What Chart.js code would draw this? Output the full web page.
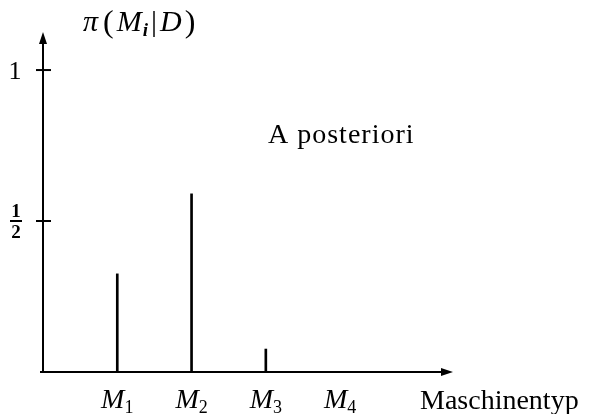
<!DOCTYPE html>
<html>
<head>
<meta charset="utf-8">
<script src="https://cdn.jsdelivr.net/npm/chart.js@4"></script>
<style>
  html, body { margin: 0; padding: 0; background: #fff; }
  #wrap { width: 596px; height: 414px; }
</style>
</head>
<body>
<div id="wrap"><canvas id="chart" width="596" height="414"></canvas></div>
<script>
// posterior probability per machine type
const machineIdx = ['1', '2', '3', '4'];
const posterior = [0.325, 0.59, 0.076, 0];
const yTicks = [1, 0.5];
const yTickText = ['1', '1/2'];

const SERIF = '"Liberation Serif", "DejaVu Serif", serif';

// axes, arrows, tick marks and all the lettering
const axesPlugin = {
  id: 'axesPlugin',
  afterDraw(chart) {
    const ctx = chart.ctx;
    const xs = chart.scales.x, ys = chart.scales.y;
    const x0 = xs.getPixelForValue(0), y0 = ys.getPixelForValue(0);
    const xEnd = xs.right, yEnd = ys.top;
    ctx.save();
    ctx.strokeStyle = '#000';
    ctx.fillStyle = '#000';
    ctx.lineWidth = 2;

    // x axis with arrow
    ctx.beginPath();
    ctx.moveTo(x0 - 3, y0);
    ctx.lineTo(xEnd - 6, y0);
    ctx.stroke();
    ctx.beginPath();
    ctx.moveTo(xEnd, y0);
    ctx.lineTo(xEnd - 12, y0 - 4);
    ctx.lineTo(xEnd - 12, y0 + 4);
    ctx.closePath();
    ctx.fill();

    // y axis with arrow
    ctx.beginPath();
    ctx.moveTo(x0, y0);
    ctx.lineTo(x0, yEnd + 6);
    ctx.stroke();
    ctx.beginPath();
    ctx.moveTo(x0, yEnd);
    ctx.lineTo(x0 - 4, yEnd + 12);
    ctx.lineTo(x0 + 4, yEnd + 12);
    ctx.closePath();
    ctx.fill();

    // y ticks
    yTicks.forEach((v, i) => {
      const py = ys.getPixelForValue(v);
      ctx.beginPath();
      ctx.moveTo(x0 - 7, py);
      ctx.lineTo(x0 + 8, py);
      ctx.stroke();
      const t = yTickText[i];
      ctx.textAlign = 'center';
      ctx.textBaseline = 'alphabetic';
      if (t.includes('/')) {
        const [n, d] = t.split('/');
        ctx.font = 'bold 19px ' + SERIF;
        ctx.fillText(n, 16, py - 4);
        ctx.fillText(d, 16, py + 17);
        ctx.lineWidth = 2;
        ctx.beginPath();
        ctx.moveTo(10, py);
        ctx.lineTo(22, py);
        ctx.stroke();
      } else {
        ctx.font = '26px ' + SERIF;
        ctx.fillText(t, 15, py + 9);
      }
    });

    // category labels M_k
    machineIdx.forEach((k, i) => {
      const px = xs.getPixelForValue(i + 1);
      ctx.font = 'italic 28px ' + SERIF;
      const wM = ctx.measureText('M').width;
      ctx.font = '18px ' + SERIF;
      const wS = ctx.measureText(k).width;
      const left = px - (wM + wS) / 2;
      ctx.textAlign = 'left';
      ctx.font = 'italic 28px ' + SERIF;
      ctx.fillText('M', left, 408);
      ctx.font = '18px ' + SERIF;
      ctx.fillText(k, left + wM, 413);
    });

    // axis titles
    ctx.textAlign = 'left';
    ctx.font = '28px ' + SERIF;
    ctx.fillText('Maschinentyp', 420, 409);
    ctx.letterSpacing = '1px';
    ctx.fillText('A posteriori', 268, 143);
    ctx.letterSpacing = '0px';

    // y title: pi(M_i|D)
    let x = 83;
    const part = (txt, font, dy, gap) => {
      ctx.font = font;
      ctx.fillText(txt, x, 31 + (dy || 0));
      x += ctx.measureText(txt).width + (gap || 0);
    };
    part('\u03c0', 'italic 30px ' + SERIF, 0, 5);
    part('(', '32px ' + SERIF, 1, 3);
    part('M', 'italic 30px ' + SERIF, 0, 1);
    part('i', 'bold italic 19px ' + SERIF, 5, 3);
    part('|', '30px ' + SERIF, 0, 3);
    part('D', 'italic 30px ' + SERIF, 0, 3);
    part(')', '32px ' + SERIF, 1);
    ctx.restore();
  }
};

new Chart(document.getElementById('chart'), {
  type: 'bar',
  data: {
    datasets: [{
      data: posterior.map((p, i) => ({ x: i + 1, y: p })),
      backgroundColor: '#000',
      borderWidth: 0,
      barThickness: 2
    }]
  },
  options: {
    responsive: false,
    animation: false,
    layout: { padding: { left: 43, right: 143, top: 32, bottom: 42 } },
    plugins: { legend: { display: false }, tooltip: { enabled: false } },
    scales: {
      x: { type: 'linear', min: 0, max: 5.52, offset: false, display: false },
      y: { min: 0, max: 1.126, display: false }
    }
  },
  plugins: [axesPlugin]
});
</script>
</body>
</html>
